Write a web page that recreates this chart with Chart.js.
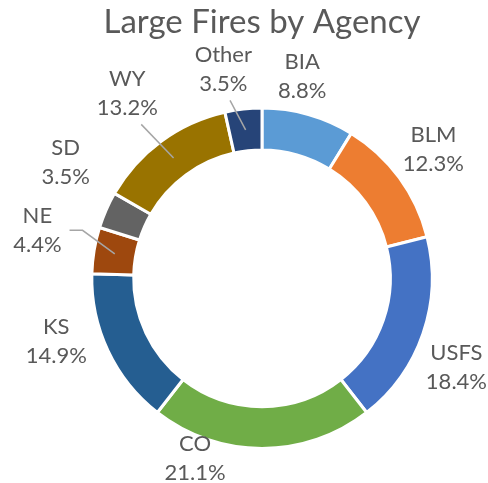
<!DOCTYPE html>
<html>
<head>
<meta charset="utf-8">
<script src="https://cdn.jsdelivr.net/npm/chart.js@4.4.1/dist/chart.umd.min.js"></script>
<style>
  html, body { margin: 0; padding: 0; background: #fff; }
  #wrap { width: 488px; height: 483px; }
</style>
</head>
<body>
<div id="wrap"><canvas id="fires-chart"></canvas></div>
<script>
// Share of large fires by agency (%)
const agencies = ['BIA', 'BLM', 'USFS', 'CO', 'KS', 'NE', 'SD', 'WY', 'Other'];
const shares = [8.8, 12.3, 18.4, 21.1, 14.9, 4.4, 3.5, 13.2, 3.5];
const sliceColors = ['#5B9BD5', '#ED7D31', '#4472C4', '#70AD47', '#255E91',
                     '#9E480E', '#636363', '#997300', '#264478'];

// Labels Excel pulled away from the ring get a leader line
const withLeader = ['NE', 'WY', 'Other'];

const textColor = '#595959';
const labelFont = '22px Lato';

// Draws "name / pct%" outside each slice
const outsideLabels = {
    id: 'outsideLabels',
    afterDatasetsDraw(chart, args, opts) {
        const ctx = chart.ctx;
        const meta = chart.getDatasetMeta(0);
        ctx.save();
        ctx.font = labelFont;
        ctx.textAlign = 'center';
        ctx.textBaseline = 'middle';

        meta.data.forEach((arc, i) => {
            const p = arc.getProps(['x', 'y', 'startAngle', 'endAngle', 'outerRadius', 'innerRadius'], true);
            const mid = (p.startAngle + p.endAngle) / 2;
            const cos = Math.cos(mid);
            const sin = Math.sin(mid);
            const name = chart.data.labels[i];
            const lines = [name, shares[i].toFixed(1) + '%'];
            const w = Math.max(...lines.map(t => ctx.measureText(t).width));
            const h = 2 * opts.lineHeight;
            const r = p.outerRadius + opts.gap;
            const nudge = opts.nudge[name] || [0, 0];
            const cx = p.x + cos * r + cos * w / 2 + nudge[0];
            const cy = p.y + sin * r + sin * h / 2 + nudge[1];

            ctx.fillStyle = textColor;
            ctx.fillText(lines[0], cx, cy - opts.lineHeight / 2);
            ctx.fillText(lines[1], cx, cy + opts.lineHeight / 2);

            if (withLeader.includes(name)) {
                const midR = (p.outerRadius + p.innerRadius) / 2;
                const tx = p.x + cos * midR;
                const ty = p.y + sin * midR;
                ctx.strokeStyle = '#A6A6A6';
                ctx.lineWidth = 1.5;
                ctx.beginPath();
                if (name === 'NE') {
                    // horizontal stub off the right side of the label
                    const sx = cx + w / 2 + 8;
                    ctx.moveTo(sx, cy);
                    ctx.lineTo(sx + 13, cy);
                } else {
                    ctx.moveTo(cx + (tx - cx) * 0.3, cy + h / 2 + 2);
                }
                ctx.lineTo(tx, ty);
                ctx.stroke();
            }
        });
        ctx.restore();
    }
};

new Chart(document.getElementById('fires-chart'), {
    type: 'doughnut',
    data: {
        labels: agencies,
        datasets: [{
            data: shares,
            backgroundColor: sliceColors,
            borderColor: '#ffffff',
            borderWidth: 3,
            hoverOffset: 0
        }]
    },
    options: {
        responsive: true,
        maintainAspectRatio: false,
        animation: false,
        cutout: '75.4%',
        layout: {
            padding: { left: 90, right: 54, top: 0, bottom: 33 }
        },
        plugins: {
            legend: { display: false },
            tooltip: { enabled: false },
            title: {
                display: true,
                text: 'Large Fires by Agency',
                color: textColor,
                font: { family: 'Lato', size: 33, weight: 'normal' },
                padding: { top: 3, bottom: 64 }
            },
            outsideLabels: {
                gap: 8,
                lineHeight: 29,
                // Excel's best-fit placement, as offsets from the plain radial spot
                nudge: {
                    BIA: [-15, -3], Other: [-16, -3], BLM: [3, -6], USFS: [-3, 22],
                    CO: [-67, -27], KS: [-17, -25], NE: [-25, -14], SD: [-11, -33],
                    WY: [-11, -18]
                }
            }
        }
    },
    plugins: [outsideLabels]
});
</script>
</body>
</html>
